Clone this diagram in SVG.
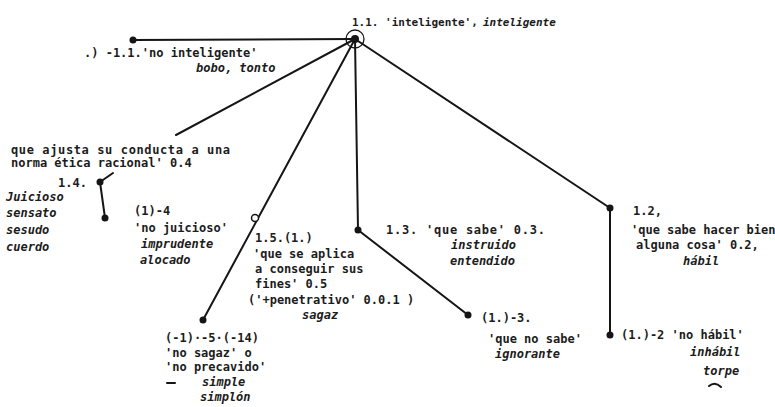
<svg xmlns="http://www.w3.org/2000/svg" width="775" height="407" viewBox="0 0 775 407">
<style>
text{font-family:"DejaVu Sans Mono","Liberation Mono",monospace;font-size:12px;font-weight:bold;fill:#1c1c1c}
.i{font-style:italic}
.h{font-size:11px}
.ln{stroke:#151515;stroke-width:2;fill:none;stroke-linecap:round}
.dot{fill:#151515}
</style>
<rect width="775" height="407" fill="#fff"/>
<g id="connectors">
<line class="ln" x1="355" y1="39" x2="133" y2="40"/>
<line class="ln" x1="355" y1="39" x2="176" y2="135"/>
<line class="ln" x1="355" y1="39" x2="203" y2="320"/>
<line class="ln" x1="355" y1="39" x2="358" y2="230"/>
<line class="ln" x1="355" y1="39" x2="610" y2="208"/>
<line class="ln" x1="358" y1="230" x2="468" y2="315"/>
<line class="ln" x1="610" y1="208" x2="610" y2="335"/>
<line class="ln" x1="100" y1="182" x2="105" y2="218"/>
<line class="ln" x1="100" y1="182" x2="113" y2="173"/>
</g>
<g id="n-root">
<circle cx="355" cy="39" r="9" fill="none" stroke="#151515" stroke-width="1.3"/>
<circle class="dot" cx="355" cy="39" r="4"/>
<text class="h" x="352" y="26">1.1. 'inteligente',</text>
<text class="h i" x="483" y="26">inteligente</text>
</g>
<g id="n-no-inteligente">
<circle class="dot" cx="133" cy="40" r="3.5"/>
<text x="84" y="57">.) -1.1.'no inteligente'</text>
<text class="i" x="196" y="72">bobo, tonto</text>
</g>
<g id="n-1-4">
<text x="11" y="154" textLength="219">que ajusta su conducta a una</text>
<text x="11" y="167">norma ética racional' 0.4</text>
<circle class="dot" cx="100" cy="182" r="3.5"/>
<text x="58" y="187">1.4.</text>
<text class="i" x="6" y="201">Juicioso</text>
<text class="i" x="6" y="217">sensato</text>
<text class="i" x="6" y="234">sesudo</text>
<text class="i" x="6" y="251">cuerdo</text>
</g>
<g id="n-no-juicioso">
<circle class="dot" cx="105" cy="218" r="3.5"/>
<text x="134" y="215">(1)-4</text>
<text x="134" y="232">'no juicioso'</text>
<text class="i" x="141" y="248">imprudente</text>
<text class="i" x="140" y="264">alocado</text>
</g>
<g id="n-1-5">
<circle cx="255" cy="218" r="3.5" fill="#fff" stroke="#151515" stroke-width="1.5"/>
<text x="255" y="242">1.5.(1.)</text>
<text x="253" y="258">'que se aplica</text>
<text x="255" y="273">a conseguir sus</text>
<text x="255" y="288">fines' 0.5</text>
<text x="248" y="304">('+penetrativo' 0.0.1 )</text>
<text class="i" x="302" y="319">sagaz</text>
</g>
<g id="n-no-sagaz">
<circle class="dot" cx="203" cy="320" r="3.5"/>
<text x="165" y="342">(-1)·-5·(-14)</text>
<text x="165" y="357">'no sagaz' o</text>
<text x="165" y="371">'no precavido'</text>
<path class="ln" d="M167 383 L175 383" stroke-width="1.5"/>
<text class="i" x="202" y="386">simple</text>
<text class="i" x="200" y="401">simplón</text>
</g>
<g id="n-1-3">
<circle class="dot" cx="358" cy="230" r="3.5"/>
<text x="386" y="234" textLength="159">1.3. 'que sabe' 0.3.</text>
<text class="i" x="451" y="249">instruido</text>
<text class="i" x="450" y="265">entendido</text>
</g>
<g id="n-no-sabe">
<circle class="dot" cx="468" cy="315" r="3.5"/>
<text x="481" y="322">(1.)-3.</text>
<text x="488" y="343">'que no sabe'</text>
<text class="i" x="495" y="358">ignorante</text>
</g>
<g id="n-1-2">
<circle class="dot" cx="610" cy="208" r="3.5"/>
<text x="633" y="215">1.2,</text>
<text x="631" y="234">'que sabe hacer bien</text>
<text x="636" y="249">alguna cosa' 0.2,</text>
<text class="i" x="683" y="265">hábil</text>
</g>
<g id="n-no-habil">
<circle class="dot" cx="610" cy="335" r="3.5"/>
<text x="621" y="339">(1.)-2 'no hábil'</text>
<text class="i" x="690" y="356">inhábil</text>
<text class="i" x="703" y="375">torpe</text>
<path class="ln" d="M709 386 Q715 381 721 387" stroke-width="1.5"/>
</g>
</svg>
